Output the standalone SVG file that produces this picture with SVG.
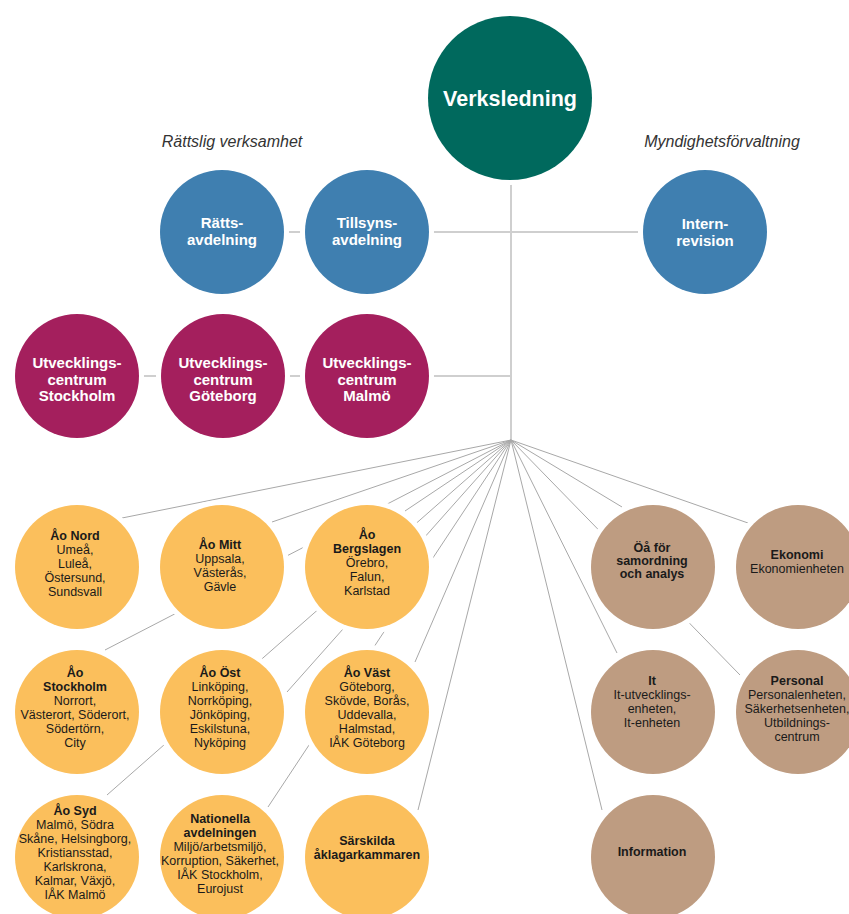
<svg xmlns="http://www.w3.org/2000/svg" width="849" height="914" viewBox="0 0 849 914">
<style>
.bg{fill:#ffffff}
.trunk{stroke:#cfcfcf;stroke-width:2;fill:none}
.spoke{stroke:#a8a8a8;stroke-width:1;fill:none}
circle{stroke:#ffffff;stroke-width:10;paint-order:stroke}
.teal{fill:#00695d}
.blue{fill:#3f7fb0}
.purple{fill:#a41f5d}
.yellow{fill:#fbbf5c}
.brown{fill:#be9c81}
text{font-family:"Liberation Sans",Arial,sans-serif;text-anchor:middle}
.w{fill:#ffffff;font-weight:bold;font-size:15px}
.big{fill:#ffffff;font-weight:bold;font-size:21.5px}
.cap{fill:#333333;font-style:italic;font-size:16px}
.t{fill:#1a1a1a;font-weight:bold;font-size:12.5px}
.r{fill:#1a1a1a;font-size:12.5px}
</style>
<rect class="bg" x="0" y="0" width="849" height="914"/>
<g id="connectors">
<line class="trunk" x1="511" y1="98" x2="511" y2="440"/>
<line class="trunk" x1="222" y1="232" x2="638" y2="232"/>
<line class="trunk" x1="77" y1="376" x2="511" y2="376"/>
<line class="spoke" x1="511" y1="440" x2="122" y2="518"/>
<line class="spoke" x1="511" y1="440" x2="272" y2="522"/>
<line class="spoke" x1="511" y1="440" x2="405" y2="511"/>
<line class="spoke" x1="511" y1="440" x2="105" y2="650"/>
<line class="spoke" x1="511" y1="440" x2="287" y2="692"/>
<line class="spoke" x1="511" y1="440" x2="415" y2="662"/>
<line class="spoke" x1="511" y1="440" x2="107" y2="795"/>
<line class="spoke" x1="511" y1="440" x2="268" y2="807"/>
<line class="spoke" x1="511" y1="440" x2="418" y2="810"/>
<line class="spoke" x1="511" y1="440" x2="622" y2="507"/>
<line class="spoke" x1="511" y1="440" x2="748" y2="523"/>
<line class="spoke" x1="511" y1="440" x2="617" y2="653"/>
<line class="spoke" x1="511" y1="440" x2="740" y2="675"/>
<line class="spoke" x1="511" y1="440" x2="602" y2="810"/>
</g>
<text class="cap" x="232" y="147">Rättslig verksamhet</text>
<text class="cap" x="722" y="147">Myndighetsförvaltning</text>
<g id="verksledning"><circle class="teal" cx="510" cy="98" r="82"/><text class="big" x="510" y="106">Verksledning</text></g>
<g id="rattsavdelning"><circle class="blue" cx="222" cy="232" r="62"/><text class="w" x="222" y="228">Rätts-</text><text class="w" x="222" y="245">avdelning</text></g>
<g id="tillsynsavdelning"><circle class="blue" cx="367" cy="232" r="62"/><text class="w" x="367" y="228">Tillsyns-</text><text class="w" x="367" y="245">avdelning</text></g>
<g id="internrevision"><circle class="blue" cx="705" cy="232" r="62"/><text class="w" x="705" y="229">Intern-</text><text class="w" x="705" y="246">revision</text></g>
<g id="uc-stockholm"><circle class="purple" cx="77" cy="376" r="62"/><text class="w" x="77" y="368">Utvecklings-</text><text class="w" x="77" y="384.5">centrum</text><text class="w" x="77" y="401">Stockholm</text></g>
<g id="uc-goteborg"><circle class="purple" cx="223" cy="376" r="62"/><text class="w" x="223" y="368">Utvecklings-</text><text class="w" x="223" y="384.5">centrum</text><text class="w" x="223" y="401">Göteborg</text></g>
<g id="uc-malmo"><circle class="purple" cx="367" cy="376" r="62"/><text class="w" x="367" y="368">Utvecklings-</text><text class="w" x="367" y="384.5">centrum</text><text class="w" x="367" y="401">Malmö</text></g>
<g id="ao-nord"><circle class="yellow" cx="77" cy="567" r="62"/><text class="t" x="75" y="540">Åo Nord</text><text class="r" x="75" y="554">Umeå,</text><text class="r" x="75" y="568">Luleå,</text><text class="r" x="75" y="582">Östersund,</text><text class="r" x="75" y="596">Sundsvall</text></g>
<g id="ao-mitt"><circle class="yellow" cx="222" cy="567" r="62"/><text class="t" x="220" y="549">Åo Mitt</text><text class="r" x="220" y="563">Uppsala,</text><text class="r" x="220" y="577">Västerås,</text><text class="r" x="220" y="591">Gävle</text></g>
<g id="ao-bergslagen"><circle class="yellow" cx="367" cy="567" r="62"/><text class="t" x="367" y="539">Åo</text><text class="t" x="367" y="553">Bergslagen</text><text class="r" x="367" y="567">Örebro,</text><text class="r" x="367" y="581">Falun,</text><text class="r" x="367" y="595">Karlstad</text></g>
<g id="ao-stockholm"><circle class="yellow" cx="77" cy="712" r="62"/><text class="t" x="75" y="677">Åo</text><text class="t" x="75" y="691">Stockholm</text><text class="r" x="75" y="705">Norrort,</text><text class="r" x="75" y="719">Västerort, Söderort,</text><text class="r" x="75" y="733">Södertörn,</text><text class="r" x="75" y="747">City</text></g>
<g id="ao-ost"><circle class="yellow" cx="222" cy="712" r="62"/><text class="t" x="220" y="677">Åo Öst</text><text class="r" x="220" y="691">Linköping,</text><text class="r" x="220" y="705">Norrköping,</text><text class="r" x="220" y="719">Jönköping,</text><text class="r" x="220" y="733">Eskilstuna,</text><text class="r" x="220" y="747">Nyköping</text></g>
<g id="ao-vast"><circle class="yellow" cx="367" cy="712" r="62"/><text class="t" x="367" y="677">Åo Väst</text><text class="r" x="367" y="691">Göteborg,</text><text class="r" x="367" y="705">Skövde, Borås,</text><text class="r" x="367" y="719">Uddevalla,</text><text class="r" x="367" y="733">Halmstad,</text><text class="r" x="367" y="747">IÅK Göteborg</text></g>
<g id="ao-syd"><circle class="yellow" cx="77" cy="857" r="62"/><text class="t" x="75" y="815">Åo Syd</text><text class="r" x="75" y="829">Malmö, Södra</text><text class="r" x="75" y="843">Skåne, Helsingborg,</text><text class="r" x="75" y="857">Kristiansstad,</text><text class="r" x="75" y="871">Karlskrona,</text><text class="r" x="75" y="885">Kalmar, Växjö,</text><text class="r" x="75" y="899">IÅK Malmö</text></g>
<g id="nationella"><circle class="yellow" cx="222" cy="857" r="62"/><text class="t" x="220" y="823">Nationella</text><text class="t" x="220" y="837">avdelningen</text><text class="r" x="220" y="851">Miljö/arbetsmiljö,</text><text class="r" x="220" y="865">Korruption, Säkerhet,</text><text class="r" x="220" y="879">IÅK Stockholm,</text><text class="r" x="220" y="893">Eurojust</text></g>
<g id="sarskilda"><circle class="yellow" cx="367" cy="857" r="62"/><text class="t" x="367" y="845">Särskilda</text><text class="t" x="367" y="859">åklagarkammaren</text></g>
<g id="oa"><circle class="brown" cx="653" cy="567" r="62"/><text class="t" x="652" y="552">Öå för</text><text class="t" x="652" y="565">samordning</text><text class="t" x="652" y="578">och analys</text></g>
<g id="ekonomi"><circle class="brown" cx="798" cy="567" r="62"/><text class="t" x="797" y="559">Ekonomi</text><text class="r" x="797" y="573">Ekonomienheten</text></g>
<g id="it"><circle class="brown" cx="653" cy="712" r="62"/><text class="t" x="652" y="685">It</text><text class="r" x="652" y="699">It-utvecklings-</text><text class="r" x="652" y="713">enheten,</text><text class="r" x="652" y="727">It-enheten</text></g>
<g id="personal"><circle class="brown" cx="798" cy="712" r="62"/><text class="t" x="797" y="685">Personal</text><text class="r" x="797" y="699">Personalenheten,</text><text class="r" x="797" y="713">Säkerhetsenheten,</text><text class="r" x="797" y="727">Utbildnings-</text><text class="r" x="797" y="741">centrum</text></g>
<g id="information"><circle class="brown" cx="653" cy="857" r="62"/><text class="t" x="652" y="856">Information</text></g>
</svg>
